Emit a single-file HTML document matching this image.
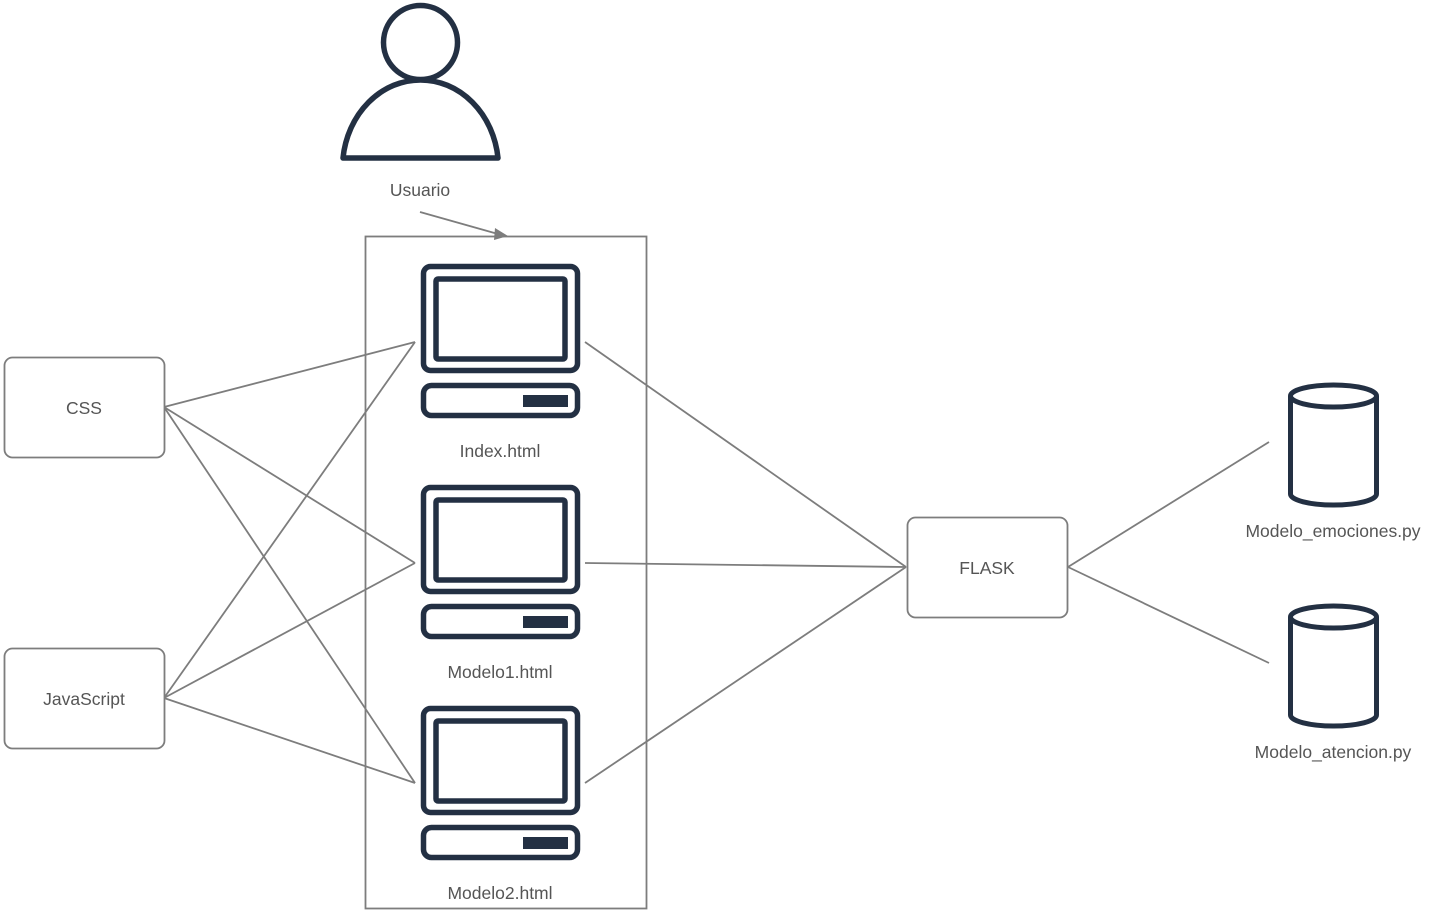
<!DOCTYPE html>
<html><head><meta charset="utf-8"><style>
html,body{margin:0;padding:0;background:#fff;}
svg{display:block;}
text{font-family:"Liberation Sans",sans-serif;fill:#555;font-size:17.5px;}
</style></head><body>
<svg width="1429" height="911" viewBox="0 0 1429 911" xmlns="http://www.w3.org/2000/svg">
<defs>
<g id="pc">
  <rect x="423.5" y="266.5" width="154" height="104" rx="7" fill="#fff" stroke="#233043" stroke-width="5.5"/>
  <rect x="436" y="279" width="129" height="80" rx="2" fill="#fff" stroke="#233043" stroke-width="5.5"/>
  <rect x="423.5" y="385.5" width="154" height="30" rx="8" fill="#fff" stroke="#233043" stroke-width="5.5"/>
  <rect x="523" y="395" width="45" height="12" fill="#233043"/>
</g>
<g id="cyl">
  <path d="M1290.5,0 L1290.5,98 A43,11 0 0 0 1376.5,98 L1376.5,0" fill="#fff" stroke="#233043" stroke-width="5"/>
  <ellipse cx="1333.5" cy="0" rx="43" ry="11" fill="#fff" stroke="#233043" stroke-width="5"/>
</g>
</defs>
<g stroke="#7d7d7d" stroke-width="1.8" fill="none">
  <rect x="365.5" y="236.5" width="281" height="672"/>
  <line x1="420" y1="212" x2="498" y2="234"/>
  <line x1="164" y1="407" x2="415" y2="342"/>
  <line x1="164" y1="407" x2="415" y2="563"/>
  <line x1="164" y1="407" x2="415" y2="783"/>
  <line x1="164" y1="698" x2="415" y2="342"/>
  <line x1="164" y1="698" x2="415" y2="563"/>
  <line x1="164" y1="698" x2="415" y2="783"/>
  <line x1="585" y1="342" x2="906" y2="567"/>
  <line x1="585" y1="563" x2="906" y2="567"/>
  <line x1="585" y1="783" x2="906" y2="567"/>
  <line x1="1068" y1="567" x2="1269" y2="442"/>
  <line x1="1068" y1="567" x2="1269" y2="663"/>
  <rect x="4.5" y="357.5" width="160" height="100" rx="8" fill="#fff"/>
  <rect x="4.5" y="648.5" width="160" height="100" rx="8" fill="#fff"/>
  <rect x="907.5" y="517.5" width="160" height="100" rx="8" fill="#fff"/>
</g>
<path d="M495,228 L508,236 L494,240 Z" fill="#7d7d7d"/>
<path d="M343,158 A78,88 0 0 1 498,158 Z" fill="#fff" stroke="#233043" stroke-width="5.5" stroke-linejoin="round"/>
<circle cx="420.5" cy="42.5" r="37" fill="#fff" stroke="#233043" stroke-width="5.5"/>
<text x="420" y="196" text-anchor="middle">Usuario</text>
<use href="#pc"/>
<use href="#pc" transform="translate(0,221)"/>
<use href="#pc" transform="translate(0,442)"/>
<text x="500" y="457" text-anchor="middle">Index.html</text>
<text x="500" y="678" text-anchor="middle">Modelo1.html</text>
<text x="500" y="899" text-anchor="middle">Modelo2.html</text>
<text x="84" y="414" text-anchor="middle">CSS</text>
<text x="84" y="705" text-anchor="middle">JavaScript</text>
<text x="987" y="574" text-anchor="middle">FLASK</text>
<use href="#cyl" transform="translate(0,396)"/>
<use href="#cyl" transform="translate(0,617)"/>
<text x="1333" y="537" text-anchor="middle">Modelo_emociones.py</text>
<text x="1333" y="758" text-anchor="middle">Modelo_atencion.py</text>
</svg>
</body></html>
